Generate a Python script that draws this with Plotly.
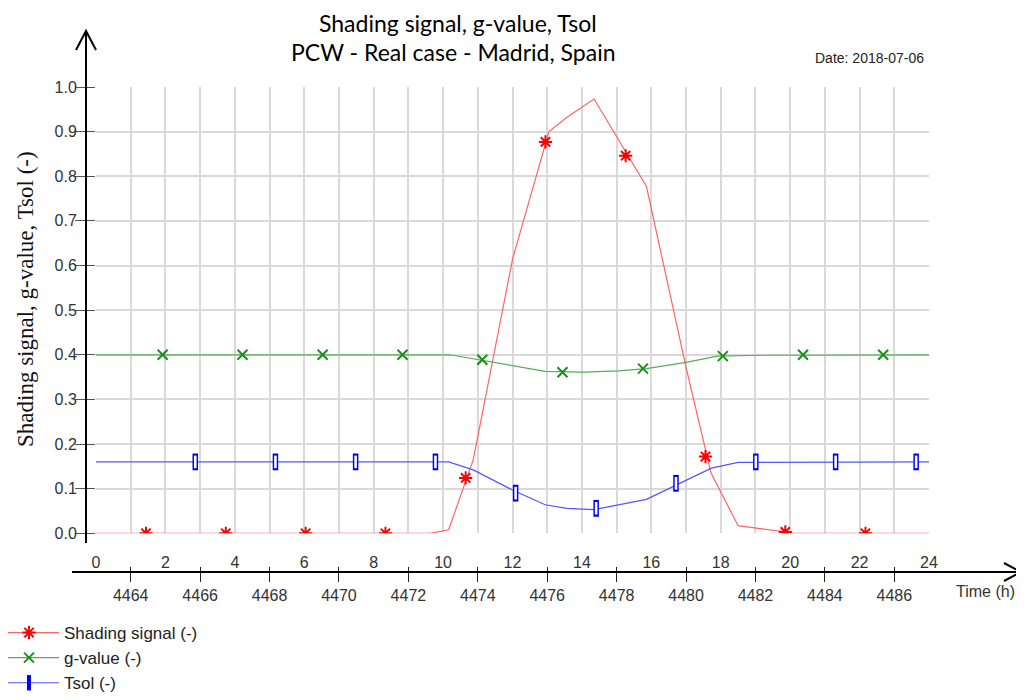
import plotly.graph_objects as go

# ---------------- data ----------------
hour_ticks = [0, 2, 4, 6, 8, 10, 12, 14, 16, 18, 20, 22, 24]
sim_hour_ticks = [4464, 4466, 4468, 4470, 4472, 4474, 4476, 4478, 4480, 4482, 4484, 4486]
y_ticks = [0.0, 0.1, 0.2, 0.3, 0.4, 0.5, 0.6, 0.7, 0.8, 0.9, 1.0]

shading_h = [0, 9.63, 10.16, 10.87, 12.0, 13.05, 13.57, 14.35, 15.86, 17.0, 17.72, 18.5, 19.8, 20.0, 24]
shading = [0, 0, 0.008, 0.165, 0.614, 0.9, 0.932, 0.973, 0.777, 0.372, 0.135, 0.017, 0.004, 0, 0]

gvalue_h = [0, 10.2, 12.94, 14.05, 15.05, 15.86, 17.0, 17.9, 19.2, 24]
gvalue = [0.4, 0.4, 0.363, 0.361, 0.364, 0.369, 0.383, 0.397, 0.399, 0.4]

tsol_h = [0, 10.16, 10.87, 12.0, 12.94, 13.57, 14.35, 15.86, 17.73, 18.5, 24]
tsol = [0.16, 0.16, 0.142, 0.097, 0.064, 0.056, 0.053, 0.076, 0.146, 0.159, 0.16]

shading_mk_h = [1.44, 3.74, 6.04, 8.34, 10.65, 12.95, 15.26, 17.56, 19.86, 22.17]
shading_mk = [0, 0, 0, 0, 0.124, 0.877, 0.846, 0.172, 0.003, 0]
gvalue_mk_h = [1.92, 4.22, 6.53, 8.83, 11.13, 13.44, 15.76, 18.06, 20.37, 22.68]
gvalue_mk = [0.4, 0.4, 0.4, 0.4, 0.389, 0.361, 0.369, 0.397, 0.4, 0.4]
tsol_mk_h = [2.86, 5.17, 7.48, 9.78, 12.09, 14.41, 16.71, 19.01, 21.31, 23.63]
tsol_mk = [0.16, 0.16, 0.16, 0.16, 0.09, 0.056, 0.112, 0.16, 0.16, 0.16]

names = ["Shading signal (-)", "g-value (-)", "Tsol (-)"]

# ---------------- geometry (reference pixel coords; page body has an 8px margin) ----------------
OFF = 8
W, H = 1024 - OFF, 700 - OFF
L, R = 96 - OFF, 929 - OFF      # plot area left/right (figure px)
T, B = 87 - OFF, 572 - OFF      # paper top / bottom (figure px)
Y0 = 533.3                      # reference pixel of y=0
PW, PH = R - L, B - T


def px(x):
    """reference page x pixel -> paper coordinate"""
    return (x - OFF - L) / PW


def py(y):
    """reference page y pixel -> paper coordinate"""
    return (B - (y - OFF)) / PH


ydom0 = py(Y0)

FONT = "Liberation Sans, Arial, sans-serif"
TITLE_FONT = "Lato, Open Sans, sans-serif"
red_line, red_mk = "rgb(255,100,100)", "#ff0000"
green_line, green_mk = "rgb(85,175,85)", "#1b8f1b"
blue_line, blue_mk = "rgb(85,85,255)", "#0000ff"

fig = go.Figure()

# lines
fig.add_trace(go.Scatter(x=shading_h, y=shading, mode="lines", line=dict(color=red_line, width=1.2),
                         showlegend=False, hoverinfo="skip"))
fig.add_trace(go.Scatter(x=gvalue_h, y=gvalue, mode="lines", line=dict(color=green_line, width=1.2),
                         showlegend=False, hoverinfo="skip"))
fig.add_trace(go.Scatter(x=tsol_h, y=tsol, mode="lines", line=dict(color=blue_line, width=1.2),
                         showlegend=False, hoverinfo="skip"))

# markers
fig.add_trace(go.Scatter(x=shading_mk_h, y=shading_mk, mode="markers",
                         marker=dict(symbol="asterisk-open", size=11, color=red_mk, line=dict(color=red_mk, width=2)),
                         showlegend=False, hoverinfo="skip"))
fig.add_trace(go.Scatter(x=gvalue_mk_h, y=gvalue_mk, mode="markers",
                         marker=dict(symbol="x-thin-open", size=10, color=green_mk, line=dict(color=green_mk, width=2)),
                         showlegend=False, hoverinfo="skip"))
fig.add_trace(go.Scatter(x=tsol_mk_h, y=tsol_mk, mode="markers",
                         marker=dict(symbol="line-ns-open", size=12, color=blue_mk, line=dict(color=blue_mk, width=5.5)),
                         showlegend=False, hoverinfo="skip"))
fig.add_trace(go.Scatter(x=tsol_mk_h, y=tsol_mk, mode="markers",
                         marker=dict(symbol="line-ns-open", size=9, color="white", line=dict(color="white", width=2.6)),
                         showlegend=False, hoverinfo="skip"))

# legend entries
fig.add_trace(go.Scatter(x=[None], y=[None], mode="lines+markers", name=names[0],
                         line=dict(color=red_line, width=1.2),
                         marker=dict(symbol="asterisk-open", size=11, color=red_mk, line=dict(color=red_mk, width=2))))
fig.add_trace(go.Scatter(x=[None], y=[None], mode="lines+markers", name=names[1],
                         line=dict(color=green_line, width=1.2),
                         marker=dict(symbol="x-thin-open", size=10, color=green_mk, line=dict(color=green_mk, width=2))))
fig.add_trace(go.Scatter(x=[None], y=[None], mode="lines+markers", name=names[2],
                         line=dict(color=blue_line, width=1.2),
                         marker=dict(symbol="line-ns-open", size=11, color=blue_mk, line=dict(color=blue_mk, width=4))))

# secondary (simulation hour) axis dummy trace
fig.add_trace(go.Scatter(x=[sim_hour_ticks[0]], y=[None], xaxis="x2", showlegend=False, hoverinfo="skip"))

grid = "#d9d9d9"
fig.update_layout(
    width=W, height=H,
    margin=dict(l=L, r=W - R, t=T, b=H - B, pad=0, autoexpand=False),
    paper_bgcolor="white", plot_bgcolor="white",
    font=dict(family=FONT, size=16, color="#333333"),
    xaxis=dict(range=[0, 24], tickvals=hour_ticks, ticktext=[str(v) for v in hour_ticks],
               showgrid=True, gridcolor=grid, gridwidth=1.5,
               minor=dict(dtick=1, showgrid=True, gridcolor=grid, gridwidth=1.5),
               ticks="", showline=False, zeroline=False, anchor="y",
               ticklabelstandoff=18, tickfont=dict(size=16, color="#333333")),
    xaxis2=dict(range=[4463, 4487], tickvals=sim_hour_ticks, overlaying="x", anchor="free",
                position=py(566), side="bottom", showgrid=False, zeroline=False, showline=False,
                ticks="outside", ticklen=15, tickwidth=1.3, tickcolor="#222222",
                tickfont=dict(size=16, color="#333333")),
    yaxis=dict(range=[0, 1], domain=[ydom0, 1], tickvals=y_ticks, ticktext=[f"{v:.1f}" for v in y_ticks],
               showgrid=True, gridcolor=grid, gridwidth=1.5, zeroline=False, showline=False,
               ticks="outside", ticklen=20, tickwidth=1.3, tickcolor="#555555",
               ticklabelstandoff=-5, tickfont=dict(size=16, color="#333333")),
    legend=dict(x=px(-6), y=py(615), xanchor="left", yanchor="top", bgcolor="rgba(0,0,0,0)",
                font=dict(family=FONT, size=17, color="#222222"), itemwidth=60,
                tracegroupgap=0),
    showlegend=True,
)

shapes = []
# y axis line and arrow
shapes.append(dict(type="line", xref="paper", yref="paper", x0=px(86), x1=px(86), y0=py(543), y1=py(32),
                   line=dict(color="black", width=2)))
shapes.append(dict(type="path", xref="paper", yref="paper",
                   path=f"M{px(76)},{py(50)} L{px(86)},{py(31)} L{px(96)},{py(50)}",
                   line=dict(color="black", width=2)))
# x axis line and arrow
shapes.append(dict(type="line", xref="paper", yref="paper", x0=px(72), x1=px(1020), y0=py(572), y1=py(572),
                   line=dict(color="black", width=2)))
shapes.append(dict(type="path", xref="paper", yref="paper",
                   path=f"M{px(1004)},{py(563)} L{px(1021)},{py(572)} L{px(1004)},{py(581)}",
                   line=dict(color="black", width=2)))
fig.update_layout(shapes=shapes)

annotations = [
    dict(text="Shading signal, g-value, Tsol", x=px(458), y=py(23), xref="paper", yref="paper",
         showarrow=False, font=dict(family=TITLE_FONT, size=23, color="black"), borderpad=0,
         xanchor="center", yanchor="middle"),
    dict(text="PCW - Real case - Madrid, Spain", x=px(453), y=py(52), xref="paper", yref="paper",
         showarrow=False, font=dict(family=TITLE_FONT, size=23, color="black"), borderpad=0,
         xanchor="center", yanchor="middle"),
    dict(text="Date: 2018-07-06", x=px(926), y=py(58), xref="paper", yref="paper",
         showarrow=False, font=dict(family=FONT, size=14, color="#222222"),
         xanchor="right", yanchor="middle"),
    dict(text="Shading signal, g-value, Tsol (-)", x=px(25), y=py(299), xref="paper", yref="paper",
         showarrow=False, textangle=-90,
         font=dict(family="Liberation Serif, Times New Roman, serif", size=23, color="#111111"),
         xanchor="center", yanchor="middle"),
    dict(text="Time (h)", x=px(954), y=py(591), xref="paper", yref="paper",
         showarrow=False, font=dict(family=FONT, size=16, color="#333333"),
         xanchor="left", yanchor="middle"),
]
fig.update_layout(annotations=annotations)

fig.write_html("out.html")
